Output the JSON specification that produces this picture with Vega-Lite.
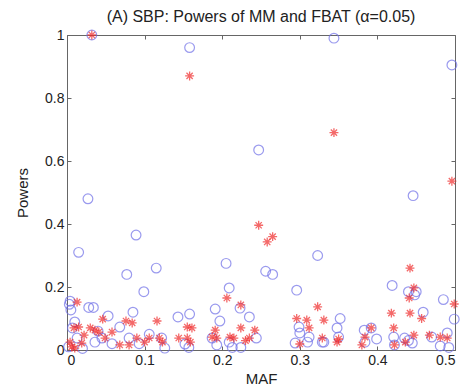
{
  "$schema": "https://vega.github.io/schema/vega-lite/v6.json",
  "autosize": "none",
  "width": 388,
  "height": 315,
  "padding": {"left": 67, "top": 35, "right": 9, "bottom": 41},
  "background": "white",
  "title": {"text": "(A) SBP: Powers of MM and FBAT (α=0.05)", "fontSize": 16, "font": "Liberation Sans", "fontWeight": "normal", "color": "#222", "offset": 3},
  "config": {
    "view": {"stroke": "#666", "strokeWidth": 1},
    "axis": {"labelFont": "Liberation Sans", "titleFont": "Liberation Sans", "labelFontSize": 14, "titleFontSize": 15, "titleFontWeight": "normal", "labelColor": "#222", "titleColor": "#222", "domainColor": "#666", "tickColor": "#666", "grid": false, "tickSize": -4}
  },
  "data": {"values": [
    {"maf": 0.032, "method": "MM", "power": 1.0},
    {"maf": 0.158, "method": "MM", "power": 0.96},
    {"maf": 0.247, "method": "MM", "power": 0.635},
    {"maf": 0.344, "method": "MM", "power": 0.99},
    {"maf": 0.496, "method": "MM", "power": 0.905},
    {"maf": 0.027, "method": "MM", "power": 0.48},
    {"maf": 0.015, "method": "MM", "power": 0.31},
    {"maf": 0.089, "method": "MM", "power": 0.365},
    {"maf": 0.077, "method": "MM", "power": 0.24},
    {"maf": 0.115, "method": "MM", "power": 0.26},
    {"maf": 0.099, "method": "MM", "power": 0.185},
    {"maf": 0.205, "method": "MM", "power": 0.275},
    {"maf": 0.209, "method": "MM", "power": 0.197},
    {"maf": 0.256, "method": "MM", "power": 0.25},
    {"maf": 0.265, "method": "MM", "power": 0.24},
    {"maf": 0.323, "method": "MM", "power": 0.30},
    {"maf": 0.296, "method": "MM", "power": 0.19},
    {"maf": 0.446, "method": "MM", "power": 0.49},
    {"maf": 0.440, "method": "MM", "power": 0.185},
    {"maf": 0.450, "method": "MM", "power": 0.185},
    {"maf": 0.419, "method": "MM", "power": 0.205},
    {"maf": 0.485, "method": "MM", "power": 0.16},
    {"maf": 0.004, "method": "MM", "power": 0.155},
    {"maf": 0.003, "method": "MM", "power": 0.145},
    {"maf": 0.028, "method": "MM", "power": 0.135},
    {"maf": 0.034, "method": "MM", "power": 0.135},
    {"maf": 0.005, "method": "MM", "power": 0.127},
    {"maf": 0.085, "method": "MM", "power": 0.12},
    {"maf": 0.143, "method": "MM", "power": 0.105},
    {"maf": 0.158, "method": "MM", "power": 0.114},
    {"maf": 0.053, "method": "MM", "power": 0.108},
    {"maf": 0.010, "method": "MM", "power": 0.089},
    {"maf": 0.068, "method": "MM", "power": 0.073},
    {"maf": 0.007, "method": "MM", "power": 0.07},
    {"maf": 0.080, "method": "MM", "power": 0.038},
    {"maf": 0.045, "method": "MM", "power": 0.038},
    {"maf": 0.106, "method": "MM", "power": 0.05},
    {"maf": 0.122, "method": "MM", "power": 0.038},
    {"maf": 0.152, "method": "MM", "power": 0.019},
    {"maf": 0.157, "method": "MM", "power": 0.008},
    {"maf": 0.058, "method": "MM", "power": 0.02},
    {"maf": 0.093, "method": "MM", "power": 0.02},
    {"maf": 0.126, "method": "MM", "power": 0.006},
    {"maf": 0.013, "method": "MM", "power": 0.038},
    {"maf": 0.036, "method": "MM", "power": 0.025},
    {"maf": 0.002, "method": "MM", "power": 0.01},
    {"maf": 0.020, "method": "MM", "power": 0.005},
    {"maf": 0.040, "method": "MM", "power": 0.06},
    {"maf": 0.191, "method": "MM", "power": 0.13},
    {"maf": 0.223, "method": "MM", "power": 0.133},
    {"maf": 0.235, "method": "MM", "power": 0.105},
    {"maf": 0.197, "method": "MM", "power": 0.092},
    {"maf": 0.187, "method": "MM", "power": 0.038},
    {"maf": 0.193, "method": "MM", "power": 0.016},
    {"maf": 0.209, "method": "MM", "power": 0.025},
    {"maf": 0.213, "method": "MM", "power": 0.008},
    {"maf": 0.224, "method": "MM", "power": 0.008},
    {"maf": 0.244, "method": "MM", "power": 0.038},
    {"maf": 0.299, "method": "MM", "power": 0.073},
    {"maf": 0.300, "method": "MM", "power": 0.054},
    {"maf": 0.312, "method": "MM", "power": 0.041},
    {"maf": 0.310, "method": "MM", "power": 0.025},
    {"maf": 0.294, "method": "MM", "power": 0.022},
    {"maf": 0.329, "method": "MM", "power": 0.025},
    {"maf": 0.352, "method": "MM", "power": 0.10},
    {"maf": 0.348, "method": "MM", "power": 0.07},
    {"maf": 0.350, "method": "MM", "power": 0.041},
    {"maf": 0.331, "method": "MM", "power": 0.025},
    {"maf": 0.383, "method": "MM", "power": 0.063},
    {"maf": 0.392, "method": "MM", "power": 0.07},
    {"maf": 0.384, "method": "MM", "power": 0.025},
    {"maf": 0.399, "method": "MM", "power": 0.035},
    {"maf": 0.421, "method": "MM", "power": 0.041},
    {"maf": 0.422, "method": "MM", "power": 0.016},
    {"maf": 0.435, "method": "MM", "power": 0.038},
    {"maf": 0.445, "method": "MM", "power": 0.022},
    {"maf": 0.440, "method": "MM", "power": 0.03},
    {"maf": 0.470, "method": "MM", "power": 0.041},
    {"maf": 0.490, "method": "MM", "power": 0.054},
    {"maf": 0.499, "method": "MM", "power": 0.098},
    {"maf": 0.481, "method": "MM", "power": 0.013},
    {"maf": 0.492, "method": "MM", "power": 0.008},
    {"maf": 0.448, "method": "MM", "power": 0.175},
    {"maf": 0.459, "method": "MM", "power": 0.12},
    {"maf": 0.032, "method": "FBAT", "power": 1.0},
    {"maf": 0.158, "method": "FBAT", "power": 0.87},
    {"maf": 0.344, "method": "FBAT", "power": 0.69},
    {"maf": 0.496, "method": "FBAT", "power": 0.536},
    {"maf": 0.247, "method": "FBAT", "power": 0.396},
    {"maf": 0.258, "method": "FBAT", "power": 0.343},
    {"maf": 0.265, "method": "FBAT", "power": 0.36},
    {"maf": 0.206, "method": "FBAT", "power": 0.165},
    {"maf": 0.224, "method": "FBAT", "power": 0.143},
    {"maf": 0.442, "method": "FBAT", "power": 0.26},
    {"maf": 0.447, "method": "FBAT", "power": 0.197},
    {"maf": 0.441, "method": "FBAT", "power": 0.165},
    {"maf": 0.442, "method": "FBAT", "power": 0.117},
    {"maf": 0.418, "method": "FBAT", "power": 0.117},
    {"maf": 0.457, "method": "FBAT", "power": 0.10},
    {"maf": 0.499, "method": "FBAT", "power": 0.146},
    {"maf": 0.323, "method": "FBAT", "power": 0.137},
    {"maf": 0.013, "method": "FBAT", "power": 0.152},
    {"maf": 0.046, "method": "FBAT", "power": 0.098},
    {"maf": 0.076, "method": "FBAT", "power": 0.092},
    {"maf": 0.084, "method": "FBAT", "power": 0.086},
    {"maf": 0.116, "method": "FBAT", "power": 0.092},
    {"maf": 0.155, "method": "FBAT", "power": 0.073},
    {"maf": 0.015, "method": "FBAT", "power": 0.073},
    {"maf": 0.009, "method": "FBAT", "power": 0.07},
    {"maf": 0.030, "method": "FBAT", "power": 0.07},
    {"maf": 0.036, "method": "FBAT", "power": 0.063},
    {"maf": 0.041, "method": "FBAT", "power": 0.057},
    {"maf": 0.022, "method": "FBAT", "power": 0.047},
    {"maf": 0.058, "method": "FBAT", "power": 0.057},
    {"maf": 0.004, "method": "FBAT", "power": 0.025},
    {"maf": 0.006, "method": "FBAT", "power": 0.01},
    {"maf": 0.010, "method": "FBAT", "power": 0.006},
    {"maf": 0.019, "method": "FBAT", "power": 0.022},
    {"maf": 0.049, "method": "FBAT", "power": 0.038},
    {"maf": 0.068, "method": "FBAT", "power": 0.016},
    {"maf": 0.080, "method": "FBAT", "power": 0.016},
    {"maf": 0.090, "method": "FBAT", "power": 0.038},
    {"maf": 0.100, "method": "FBAT", "power": 0.025},
    {"maf": 0.106, "method": "FBAT", "power": 0.038},
    {"maf": 0.119, "method": "FBAT", "power": 0.038},
    {"maf": 0.123, "method": "FBAT", "power": 0.025},
    {"maf": 0.144, "method": "FBAT", "power": 0.038},
    {"maf": 0.155, "method": "FBAT", "power": 0.038},
    {"maf": 0.159, "method": "FBAT", "power": 0.025},
    {"maf": 0.161, "method": "FBAT", "power": 0.07},
    {"maf": 0.191, "method": "FBAT", "power": 0.063},
    {"maf": 0.224, "method": "FBAT", "power": 0.07},
    {"maf": 0.242, "method": "FBAT", "power": 0.063},
    {"maf": 0.235, "method": "FBAT", "power": 0.038},
    {"maf": 0.187, "method": "FBAT", "power": 0.041},
    {"maf": 0.193, "method": "FBAT", "power": 0.038},
    {"maf": 0.210, "method": "FBAT", "power": 0.041},
    {"maf": 0.215, "method": "FBAT", "power": 0.038},
    {"maf": 0.230, "method": "FBAT", "power": 0.03},
    {"maf": 0.296, "method": "FBAT", "power": 0.10},
    {"maf": 0.309, "method": "FBAT", "power": 0.095},
    {"maf": 0.312, "method": "FBAT", "power": 0.07},
    {"maf": 0.331, "method": "FBAT", "power": 0.095},
    {"maf": 0.300, "method": "FBAT", "power": 0.019},
    {"maf": 0.329, "method": "FBAT", "power": 0.038},
    {"maf": 0.348, "method": "FBAT", "power": 0.025},
    {"maf": 0.350, "method": "FBAT", "power": 0.035},
    {"maf": 0.384, "method": "FBAT", "power": 0.041},
    {"maf": 0.392, "method": "FBAT", "power": 0.07},
    {"maf": 0.380, "method": "FBAT", "power": 0.016},
    {"maf": 0.421, "method": "FBAT", "power": 0.07},
    {"maf": 0.422, "method": "FBAT", "power": 0.016},
    {"maf": 0.447, "method": "FBAT", "power": 0.047},
    {"maf": 0.436, "method": "FBAT", "power": 0.025},
    {"maf": 0.467, "method": "FBAT", "power": 0.047},
    {"maf": 0.481, "method": "FBAT", "power": 0.041},
    {"maf": 0.490, "method": "FBAT", "power": 0.038}
  ]},
  "layer": [
    {
      "transform": [{"filter": "datum.method === 'MM'"}],
      "mark": {"type": "point", "shape": "circle", "filled": false, "size": 95, "stroke": "#7070e8", "strokeWidth": 1.2, "clip": false},
      "encoding": {
        "x": {"field": "maf", "type": "quantitative", "scale": {"domain": [0, 0.5], "nice": false, "zero": false}, "axis": {"title": "MAF", "values": [0, 0.1, 0.2, 0.3, 0.4, 0.5], "format": "~g", "labelPadding": 7, "titlePadding": 4}},
        "y": {"field": "power", "type": "quantitative", "scale": {"domain": [0, 1], "nice": false}, "axis": {"title": "Powers", "values": [0, 0.2, 0.4, 0.6, 0.8, 1], "format": "~g", "labelPadding": 7, "titlePadding": 14}}
      }
    },
    {
      "transform": [{"filter": "datum.method === 'FBAT'"}],
      "mark": {"type": "point", "shape": "M-1,0L1,0M0,-1L0,1M-0.7,-0.7L0.7,0.7M-0.7,0.7L0.7,-0.7", "filled": false, "size": 80, "stroke": "#f02a2a", "strokeWidth": 1.3, "clip": false},
      "encoding": {
        "x": {"field": "maf", "type": "quantitative", "axis": {"orient": "top", "values": [0, 0.1, 0.2, 0.3, 0.4, 0.5], "labels": false, "title": null, "domain": false}},
        "y": {"field": "power", "type": "quantitative", "axis": {"orient": "right", "values": [0, 0.2, 0.4, 0.6, 0.8, 1], "labels": false, "title": null, "domain": false}}
      }
    }
  ],
  "resolve": {"axis": {"x": "independent", "y": "independent"}}
}
